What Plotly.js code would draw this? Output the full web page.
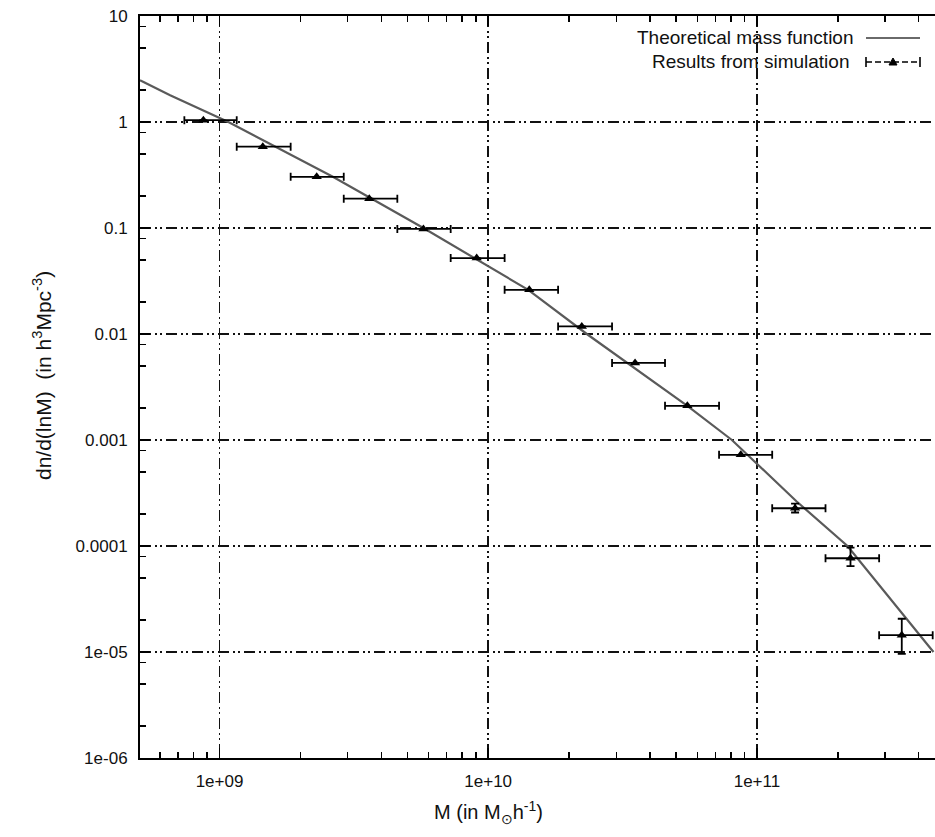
<!DOCTYPE html>
<html><head><meta charset="utf-8">
<script src="https://cdn.plot.ly/plotly-3.0.1.min.js"></script>
<style>html,body{margin:0;padding:0;background:#fff}#chart{width:935px;height:837px}</style>
</head><body><div id="chart"></div>
<script>
// Theoretical mass function
const theoryMass = [5.06e8, 6.55e8, 1.079e9, 2.652e9, 5.74e9, 1.409e10, 2.328e10, 5.51e10, 8.07e10, 1.406e11, 2.173e11, 4.54e11];
const theoryDn   = [2.48, 1.79, 1.0, 0.303, 0.1, 0.0261, 0.01, 0.0021, 0.001, 2.63e-4, 1e-4, 1e-5];

// Simulation results
const simMass = [8.71e8, 1.449e9, 2.30e9, 3.61e9, 5.74e9, 9.06e9, 1.422e10, 2.23e10, 3.52e10, 5.51e10, 8.71e10, 1.387e11, 2.23e11, 3.46e11];
const simDn   = [1.04, 0.585, 0.304, 0.189, 0.098, 0.052, 0.0261, 0.0118, 0.00533, 0.0021, 7.24e-4, 2.27e-4, 7.66e-5, 1.44e-5];
const binLow  = [7.40e8, 1.159e9, 1.84e9, 2.90e9, 4.59e9, 7.25e9, 1.151e10, 1.82e10, 2.89e10, 4.55e10, 7.23e10, 1.140e11, 1.80e11, 2.85e11];
const binHigh = [1.159e9, 1.84e9, 2.90e9, 4.59e9, 7.25e9, 1.151e10, 1.82e10, 2.89e10, 4.55e10, 7.23e10, 1.140e11, 1.80e11, 2.85e11, 4.51e11];
const dnLow   = [null, null, null, null, null, null, null, null, null, null, null, 2.07e-4, 6.47e-5, 9.6e-6];
const dnHigh  = [null, null, null, null, null, null, null, null, null, null, null, 2.51e-4, 9.64e-5, 2.06e-5];

// Tick labels
const xTickVals = [1e9, 1e10, 1e11];
const xTickText = ["1e+09", "1e+10", "1e+11"];
const yTickVals = [10, 1, 0.1, 0.01, 0.001, 1e-4, 1e-5, 1e-6];
const yTickText = ["10", "1", "0.1", "0.01", "0.001", "0.0001", "1e-05", "1e-06"];
const xMinorMant = [2, 3, 4, 5, 6, 7, 8, 9];
const yMinorMant = [2, 5, 8];

const xMinor = [];
[1e8, 1e9, 1e10, 1e11].forEach(d => xMinorMant.forEach(m => xMinor.push(m * d)));
const yMinor = [];
[1e-6, 1e-5, 1e-4, 1e-3, 1e-2, 1e-1, 1].forEach(d => yMinorMant.forEach(m => yMinor.push(m * d)));

const errXPlus = simMass.map((m, i) => binHigh[i] - m);
const errXMinus = simMass.map((m, i) => m - binLow[i]);
const errYPlus = simDn.map((v, i) => dnHigh[i] == null ? null : dnHigh[i] - v);
const errYMinus = simDn.map((v, i) => dnLow[i] == null ? null : v - dnLow[i]);

const FONT = "'Liberation Sans', Arial, sans-serif";
const GRIDDASH = "11px,4px,2px,3px,2px,4px";

const traces = [
  {
    x: theoryMass, y: theoryDn, type: 'scatter', mode: 'lines',
    line: {color: '#5a5a5a', width: 2.2},
    name: 'Theoretical mass function', showlegend: false, hoverinfo: 'skip'
  },
  {
    x: simMass, y: simDn, type: 'scatter', mode: 'markers',
    marker: {symbol: 'triangle-up', size: 9, color: '#000'},
    error_x: {type: 'data', symmetric: false, array: errXPlus, arrayminus: errXMinus,
              color: '#000', thickness: 1.8, width: 4},
    error_y: {type: 'data', symmetric: false, array: errYPlus, arrayminus: errYMinus,
              color: '#000', thickness: 1.8, width: 4},
    name: 'Results from simulation', showlegend: false, hoverinfo: 'skip'
  }
];

function px2x(px) { return (px - 140) / 795; }
function py2y(py) { return (758 - py) / 742; }

const shapes = [
  {type: 'line', xref: 'paper', yref: 'paper', x0: px2x(866), x1: px2x(920), y0: py2y(38), y1: py2y(38),
   line: {color: '#6a6a6a', width: 2}},
  {type: 'line', xref: 'paper', yref: 'paper', x0: px2x(866), x1: px2x(920), y0: py2y(62), y1: py2y(62),
   line: {color: '#000', width: 1.6, dash: '6px,3px'}},
  {type: 'line', xref: 'paper', yref: 'paper', x0: px2x(866), x1: px2x(866), y0: py2y(57), y1: py2y(67),
   line: {color: '#000', width: 1.6}},
  {type: 'line', xref: 'paper', yref: 'paper', x0: px2x(920), x1: px2x(920), y0: py2y(57), y1: py2y(67),
   line: {color: '#000', width: 1.6}},
  {type: 'path', xref: 'paper', yref: 'paper',
   path: 'M ' + px2x(889) + ' ' + py2y(65) + ' L ' + px2x(897) + ' ' + py2y(65) + ' L ' + px2x(893) + ' ' + py2y(58) + ' Z',
   fillcolor: '#000', line: {color: '#000', width: 1}}
];

const annotations = [
  {xref: 'paper', yref: 'paper', x: px2x(856), y: py2y(38), xanchor: 'right', yanchor: 'middle',
   text: 'Theoretical mass function', showarrow: false, font: {family: FONT, size: 19, color: '#111'}},
  {xref: 'paper', yref: 'paper', x: px2x(851), y: py2y(62), xanchor: 'right', yanchor: 'middle',
   text: 'Results from simulation', showarrow: false, font: {family: FONT, size: 19, color: '#111'}},
  {xref: 'paper', yref: 'paper', x: px2x(488), y: py2y(812), xanchor: 'center', yanchor: 'middle',
   text: 'M (in M<sub>\u2299</sub>h<sup>-1</sup>)', showarrow: false, font: {family: FONT, size: 20, color: '#111'}},
  {xref: 'paper', yref: 'paper', x: px2x(42), y: py2y(376), xanchor: 'center', yanchor: 'middle', textangle: -90,
   text: 'dn/d(lnM)  (in h<sup>3</sup>Mpc<sup>-3</sup>)', showarrow: false, font: {family: FONT, size: 21, color: '#111'}}
];

const layout = {
  width: 935, height: 837,
  margin: {l: 140, r: 0, t: 16, b: 79},
  paper_bgcolor: '#fff', plot_bgcolor: '#fff',
  font: {family: FONT, size: 17, color: '#111'},
  showlegend: false,
  xaxis: {
    type: 'log', range: [Math.log10(5.06e8), Math.log10(4.6e11)],
    tickmode: 'array', tickvals: xTickVals, ticktext: xTickText,
    tickfont: {family: FONT, size: 17, color: '#111'},
    ticks: 'inside', ticklen: 10, tickwidth: 1.5, tickcolor: '#000',
    showline: true, linecolor: '#000', linewidth: 2, mirror: 'allticks',
    showgrid: true, gridcolor: '#111', gridwidth: 1.8, griddash: GRIDDASH,
    zeroline: false, ticklabelstandoff: 7,
    minor: {tickmode: 'array', tickvals: xMinor, ticks: 'inside', ticklen: 6, tickwidth: 1.5, tickcolor: '#000', showgrid: false}
  },
  yaxis: {
    type: 'log', range: [-6, 1],
    tickmode: 'array', tickvals: yTickVals, ticktext: yTickText,
    tickfont: {family: FONT, size: 17, color: '#111'},
    ticks: 'inside', ticklen: 10, tickwidth: 1.5, tickcolor: '#000',
    showline: true, linecolor: '#000', linewidth: 2, mirror: false,
    showgrid: true, gridcolor: '#111', gridwidth: 1.8, griddash: GRIDDASH,
    zeroline: false, ticklabelstandoff: 7,
    minor: {tickmode: 'array', tickvals: yMinor, ticks: 'inside', ticklen: 6, tickwidth: 1.5, tickcolor: '#000', showgrid: false}
  },
  shapes: shapes,
  annotations: annotations
};

Plotly.newPlot('chart', traces, layout, {displayModeBar: false, staticPlot: true});
</script>
</body></html>
